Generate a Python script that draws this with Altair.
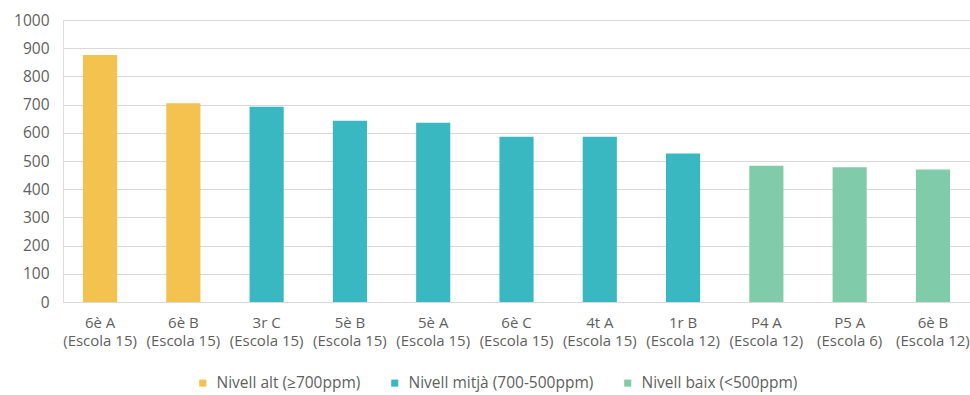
import altair as alt
import pandas as pd

# Classrooms (class | school), mean CO2 concentration (ppm) and level group
classes = ["6è A", "6è B", "3r C", "5è B", "5è A", "6è C", "4t A", "1r B", "P4 A", "P5 A", "6è B"]
schools = ["(Escola 15)", "(Escola 15)", "(Escola 15)", "(Escola 15)", "(Escola 15)", "(Escola 15)",
           "(Escola 15)", "(Escola 12)", "(Escola 12)", "(Escola 6)", "(Escola 12)"]
co2_ppm = [876, 705, 692, 643, 636, 586, 586, 527, 483, 478, 470]
levels = ["Nivell alt (≥700ppm)", "Nivell alt (≥700ppm)",
          "Nivell mitjà (700-500ppm)", "Nivell mitjà (700-500ppm)", "Nivell mitjà (700-500ppm)",
          "Nivell mitjà (700-500ppm)", "Nivell mitjà (700-500ppm)", "Nivell mitjà (700-500ppm)",
          "Nivell baix (<500ppm)", "Nivell baix (<500ppm)", "Nivell baix (<500ppm)"]

level_names = ["Nivell alt (≥700ppm)", "Nivell mitjà (700-500ppm)", "Nivell baix (<500ppm)"]
level_colors = ["#F4C24E", "#3AB8C1", "#80CBAA"]

df = pd.DataFrame({
    "aula": [f"{c}|{s}" for c, s in zip(classes, schools)],
    "ppm": co2_ppm,
    "nivell": levels,
})

FONT = "Open Sans"
TEXT = "#5f5f5f"
SIZE = 15.5

chart = (
    alt.Chart(df)
    .mark_bar()
    .encode(
        x=alt.X(
            "aula:N",
            sort=None,
            title=None,
            scale=alt.Scale(paddingInner=0.59, paddingOuter=0.24),
            axis=alt.Axis(
                labelExpr="split(datum.value, '|')",
                labelAngle=0,
                labelFont=FONT,
                labelFontSize=15,
                labelColor=TEXT,
                labelPadding=13,
                labelLineHeight=18,
                labelLimit=0,
                ticks=False,
                domain=True,
                domainColor="#D9D9D9",
                grid=False,
            ),
        ),
        y=alt.Y(
            "ppm:Q",
            title=None,
            scale=alt.Scale(domain=[0, 1000], nice=False),
            axis=alt.Axis(
                values=list(range(0, 1001, 100)),
                format="d",
                labelFont=FONT,
                labelFontSize=SIZE,
                labelColor=TEXT,
                labelPadding=14,
                ticks=False,
                domain=False,
                grid=True,
                gridColor="#D9D9D9",
                gridWidth=1,
            ),
        ),
        color=alt.Color(
            "nivell:N",
            scale=alt.Scale(domain=level_names, range=level_colors),
            legend=alt.Legend(
                title=None,
                orient="none",
                legendX=132,
                legendY=355,
                direction="horizontal",
                columns=3,
                symbolType="square",
                symbolSize=50,
                symbolStrokeWidth=0,
                labelFont=FONT,
                labelFontSize=SIZE,
                labelColor=TEXT,
                labelOffset=6,
                labelLimit=0,
                columnPadding=26,
            ),
        ),
    )
    .properties(
        width=907,
        height=282,
        autosize=alt.AutoSizeParams(type="none"),
        padding={"left": 63, "top": 20, "right": 0, "bottom": 93},
    )
    .configure_view(stroke=None)
    .configure(background="white")
)

chart.save("out.html", embed_options={"renderer": "svg", "actions": False})
